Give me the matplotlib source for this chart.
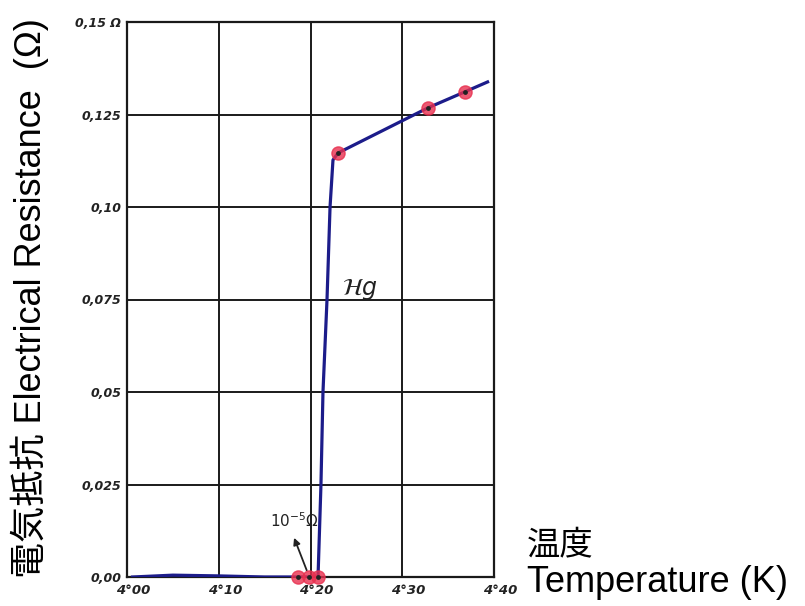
import matplotlib.pyplot as plt
import matplotlib.transforms as mtransforms

# data
temp = [4.006, 4.05, 4.10, 4.15, 4.186, 4.198, 4.2082, 4.2114, 4.2136, 4.218, 4.2213, 4.2245, 4.230, 4.328, 4.368, 4.393]
resist = [0.0, 0.0005, 0.0003, 0.0, 0.0, 0.0, 0.0, 0.025, 0.05, 0.075, 0.10, 0.1127, 0.1146, 0.1268, 0.1311, 0.1338]

pt_temp = [4.186, 4.198, 4.208, 4.230, 4.328, 4.368]
pt_resist = [0.0, 0.0, 0.0, 0.1146, 0.1268, 0.1311]

xticks = [4.00, 4.10, 4.20, 4.30, 4.40]
xtick_labels = ["4°00", "4°10", "4°20", "4°30", "4°40"]
yticks = [0.0, 0.025, 0.05, 0.075, 0.10, 0.125, 0.15]
ytick_labels = ["0,00", "0,025", "0,05", "0,075", "0,10", "0,125", "0,15 Ω"]

fig = plt.figure(figsize=(8.05, 6.06), dpi=100)
fig.patch.set_facecolor('white')
ax = fig.add_axes([127/805, 29/606, 367/805, 555/606])

ax.set_xlim(4.0, 4.4)
ax.set_ylim(0.0, 0.15)
ax.set_xticks(xticks)
ax.set_yticks(yticks)
ax.set_xticklabels(xtick_labels, fontsize=9.5, style='italic', fontweight='bold', color='#222222')
ax.set_yticklabels(ytick_labels, fontsize=9, style='italic', fontweight='bold', color='#222222')
ax.tick_params(axis='x', length=0, pad=5)
ax.tick_params(axis='y', length=0, pad=4)
# hand-written x labels sit a little right of the grid lines
shift = mtransforms.ScaledTranslation(6/100, 0, fig.dpi_scale_trans)
for lbl in ax.get_xticklabels():
    lbl.set_transform(lbl.get_transform() + shift)

ax.grid(True, color='#1a1a1a', linewidth=1.4)
for s in ax.spines.values():
    s.set_linewidth(1.6)
    s.set_color('#1a1a1a')

ax.plot(temp, resist, color='#1c1c8a', linewidth=2.3, zorder=3)
ax.scatter(pt_temp, pt_resist, s=90, color='#e8304f', alpha=0.8, zorder=4, clip_on=False)
ax.scatter(pt_temp, pt_resist, s=6, color='#222222', zorder=5, clip_on=False)

ax.annotate("", xy=(4.181, 0.0113), xytext=(4.197, 0.0011),
            arrowprops=dict(arrowstyle='-|>', color='#222222', lw=1.3, mutation_scale=10))
ax.text(4.183, 0.0128, r"$10^{-5}\Omega$", fontsize=11, ha='center', va='bottom', color='#222222')

ax.text(4.254, 0.0776, r"$\mathcal{H}g$", fontsize=17, color='#222222', ha='center', va='center')

fig.text(30/805, 1 - 298/606, "電気抵抗 Electrical Resistance  (Ω)", rotation=90, ha='center', va='center',
         fontsize=26, family=['Liberation Sans', 'Noto Sans CJK JP'])
fig.text(527/805, 1 - 545/606, "温度", ha='left', va='center', fontsize=24,
         family=['Noto Sans CJK JP', 'Liberation Sans'])
fig.text(527/805, 1 - 582/606, "Temperature (K)", ha='left', va='center', fontsize=26,
         family=['Liberation Sans', 'Noto Sans CJK JP'])

plt.savefig('out.png', dpi=100, facecolor='white')
